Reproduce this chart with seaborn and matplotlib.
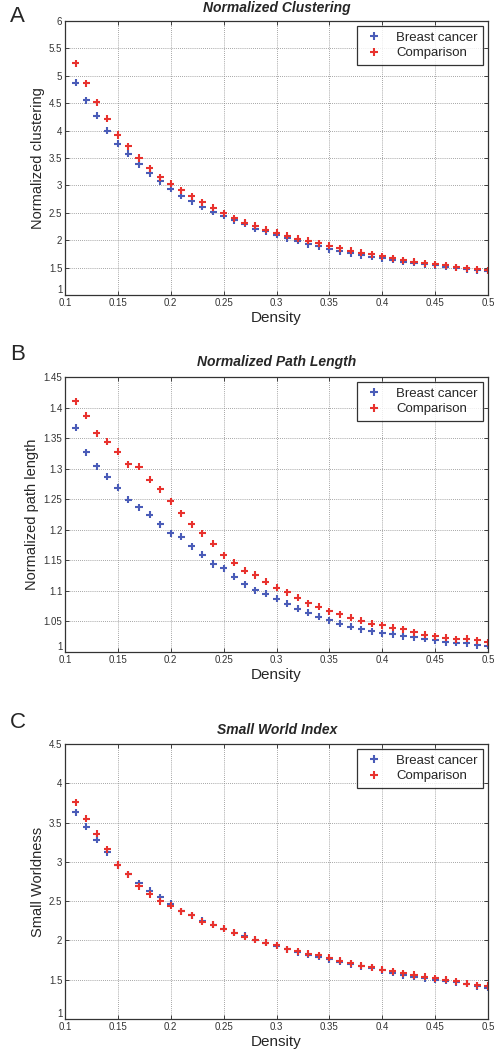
import numpy as np
import pandas as pd
import matplotlib
matplotlib.use("Agg")
import matplotlib.pyplot as plt
import seaborn as sns

density = [round(0.11 + 0.01 * i, 2) for i in range(40)]

clust_bc = [4.87, 4.55, 4.27, 4.00, 3.76, 3.58, 3.39, 3.22, 3.08, 2.94,
            2.81, 2.71, 2.61, 2.52, 2.45, 2.36, 2.30, 2.21, 2.16, 2.10,
            2.04, 1.99, 1.93, 1.89, 1.84, 1.80, 1.76, 1.73, 1.70, 1.67,
            1.64, 1.61, 1.59, 1.56, 1.54, 1.52, 1.50, 1.47, 1.45, 1.44]
clust_cmp = [5.23, 4.86, 4.52, 4.22, 3.92, 3.71, 3.50, 3.31, 3.15, 3.03,
             2.91, 2.80, 2.69, 2.59, 2.49, 2.40, 2.32, 2.26, 2.19, 2.14,
             2.08, 2.03, 1.99, 1.94, 1.90, 1.85, 1.81, 1.77, 1.74, 1.71,
             1.67, 1.63, 1.61, 1.58, 1.56, 1.54, 1.51, 1.49, 1.47, 1.45]

path_bc = [1.367, 1.327, 1.304, 1.287, 1.269, 1.249, 1.237, 1.225, 1.209, 1.194,
           1.189, 1.173, 1.159, 1.144, 1.137, 1.123, 1.111, 1.101, 1.095, 1.087,
           1.079, 1.071, 1.064, 1.058, 1.052, 1.046, 1.041, 1.037, 1.034, 1.031,
           1.029, 1.026, 1.024, 1.022, 1.019, 1.016, 1.015, 1.014, 1.011, 1.010]
path_cmp = [1.410, 1.387, 1.358, 1.344, 1.328, 1.307, 1.303, 1.282, 1.266, 1.247,
            1.227, 1.209, 1.194, 1.177, 1.158, 1.146, 1.133, 1.126, 1.115, 1.105,
            1.098, 1.089, 1.080, 1.074, 1.067, 1.062, 1.056, 1.051, 1.046, 1.044,
            1.040, 1.037, 1.032, 1.028, 1.026, 1.023, 1.021, 1.022, 1.019, 1.016]

sw_bc = [3.63, 3.45, 3.28, 3.12, 2.96, 2.84, 2.73, 2.63, 2.55, 2.47,
         2.37, 2.32, 2.25, 2.20, 2.15, 2.10, 2.06, 2.01, 1.97, 1.93,
         1.89, 1.85, 1.82, 1.79, 1.76, 1.73, 1.70, 1.67, 1.65, 1.62,
         1.59, 1.56, 1.54, 1.52, 1.50, 1.49, 1.47, 1.45, 1.42, 1.40]
sw_cmp = [3.76, 3.55, 3.36, 3.16, 2.96, 2.84, 2.69, 2.59, 2.50, 2.44,
          2.37, 2.32, 2.24, 2.20, 2.15, 2.10, 2.05, 2.01, 1.97, 1.94,
          1.89, 1.86, 1.83, 1.81, 1.78, 1.74, 1.71, 1.68, 1.66, 1.63,
          1.61, 1.58, 1.56, 1.54, 1.52, 1.50, 1.48, 1.45, 1.43, 1.42]

groups = ["Breast cancer", "Comparison"]
titles = ["Normalized Clustering", "Normalized Path Length", "Small World Index"]
ylabels = ["Normalized clustering", "Normalized path length", "Small Worldness"]
panel_letters = ["A", "B", "C"]
yticks_list = [[1, 1.5, 2, 2.5, 3, 3.5, 4, 4.5, 5, 5.5, 6],
               [1, 1.05, 1.1, 1.15, 1.2, 1.25, 1.3, 1.35, 1.4, 1.45],
               [1, 1.5, 2, 2.5, 3, 3.5, 4, 4.5]]
xticks = [0.1, 0.15, 0.2, 0.25, 0.3, 0.35, 0.4, 0.45, 0.5]

series = [(clust_bc, clust_cmp), (path_bc, path_cmp), (sw_bc, sw_cmp)]

sns.set_style("white")
plt.rcParams['font.family'] = ['Liberation Sans', 'DejaVu Sans']

palette = {"Breast cancer": "#4a5cb8", "Comparison": "#e8322e"}

fig = plt.figure(figsize=(4.96, 10.5), dpi=100)
W, H = 496, 1050
axes_px = [(65, 21, 488, 295), (65, 377, 488, 652), (65, 744, 488, 1019)]
letter_y = [17, 355, 722]
title_y = [8, 362, 730]

def fmt(v):
    return "%g" % v

for i in range(3):
    l, t, r, b = axes_px[i]
    ax = fig.add_axes([l / W, 1 - b / H, (r - l) / W, (b - t) / H])
    bc, cmp_ = series[i]
    df = pd.DataFrame({
        "Density": density * 2,
        "value": list(bc) + list(cmp_),
        "group": [groups[0]] * len(density) + [groups[1]] * len(density),
    })
    sns.scatterplot(data=df, x="Density", y="value", hue="group", palette=palette,
                    marker="+", s=26, linewidth=1.5, ax=ax, legend=True)
    yt = yticks_list[i]
    ax.set_xlim(0.1, 0.5)
    ax.set_ylim(yt[0], yt[-1])
    ax.set_xticks(xticks)
    ax.set_xticklabels([fmt(v) for v in xticks])
    ax.set_yticks(yt)
    ylabs = ax.set_yticklabels([fmt(v) for v in yt])
    ylabs[0].set_va("bottom")
    ax.grid(True, linestyle=(0, (1, 1.5)), color="#888888", linewidth=0.6)
    ax.tick_params(direction="in", length=3, width=0.6, labelsize=7,
                   labelcolor="#333333", pad=2, top=True, right=True,
                   bottom=True, left=True)
    for sp in ax.spines.values():
        sp.set_color("#333333")
        sp.set_linewidth(0.9)
    ax.set_xlabel("Density", fontsize=11, labelpad=2)
    ax.set_ylabel(ylabels[i], fontsize=10.5, labelpad=3)
    fig.text(277 / W, 1 - title_y[i] / H, titles[i], fontsize=10,
             fontweight="bold", fontstyle="italic", ha="center", va="center")
    leg = ax.legend(loc="upper right", fontsize=9.5, frameon=True, fancybox=False,
                    borderpad=0.45, handletextpad=0.9, labelspacing=0.25,
                    borderaxespad=0.35, handlelength=1.6, markerscale=1.1)
    leg.get_frame().set_edgecolor("black")
    leg.get_frame().set_linewidth(0.9)
    fig.text(10 / W, 1 - letter_y[i] / H, panel_letters[i], fontsize=16,
             ha="left", va="center")

fig.savefig("out.png", dpi=100)
